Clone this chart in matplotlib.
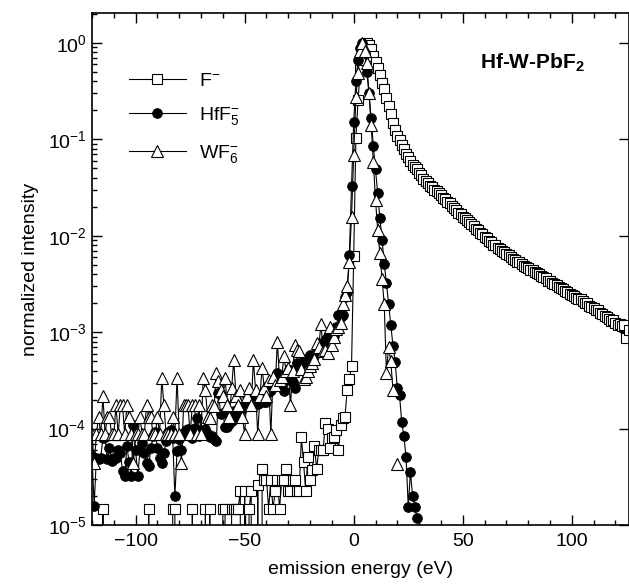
import numpy as np
import matplotlib
matplotlib.use("Agg")
import matplotlib.pyplot as plt
from matplotlib.ticker import MultipleLocator, LogLocator, NullFormatter

plt.rcParams['font.family'] = ['Liberation Sans', 'DejaVu Sans']
plt.rcParams['mathtext.fontset'] = 'custom'
plt.rcParams['mathtext.rm'] = 'Liberation Sans'
plt.rcParams['mathtext.it'] = 'Liberation Sans:italic'
plt.rcParams['mathtext.bf'] = 'Liberation Sans:bold'

# values are log10(normalized intensity), 1 eV steps
# None = no counts (drops off the log axis), nan = no point
Z = None

f_start = -120
f_log = [
    Z, Z, Z, Z, Z, -4.83, Z, Z, Z, Z,                                   # -120
    Z, Z, Z, Z, Z, Z, Z, Z, Z, Z,                                       # -110
    Z, Z, Z, Z, Z, Z, -4.83, Z, Z, Z,                                   # -100
    Z, Z, Z, Z, Z, Z, Z, -4.83, -4.83, Z,                               # -90
    Z, Z, Z, Z, Z, Z, -4.83, Z, Z, Z,                                   # -80
    Z, Z, -4.83, Z, -4.83, Z, Z, Z, Z, Z,                               # -70
    -4.83, -4.83, Z, Z, -4.83, -4.83, -4.83, -4.83, -4.65, Z,           # -60
    -4.65, Z, -4.83, -4.65, Z, Z, -4.58, Z, -4.42, -4.53,               # -50
    -4.53, -4.83, -4.53, -4.83, -4.65, -4.53, -4.83, -4.53, -4.53, -4.42,  # -40
    -4.65, -4.65, -4.53, -4.53, -4.65, -4.65, -4.09, -4.35, -4.65, -4.29,  # -30
    -4.53, -4.43, -4.18, -4.42, -4.22, -4.22, -4.22, -3.94, -4.00, -4.20,  # -20
    -4.10, -4.09, -4.01, -4.22, -3.96, -3.89, -3.88, -3.60, -3.49, -3.35,  # -10
    -2.21, -0.99, -0.59, -0.28, -0.08, -0.01, 0.00, -0.02, -0.06, -0.13,   # 0
    -0.20, -0.26, -0.33, -0.41, -0.48, -0.57, -0.65, -0.74, -0.83, -0.90,  # 10
    -0.96, -1.01, -1.06, -1.10, -1.15, -1.18, -1.22, -1.26, -1.29, -1.31,  # 20
    -1.35, -1.37, -1.41, -1.43, -1.45, -1.48, -1.49, -1.52, -1.54, -1.56,  # 30
    -1.58, -1.61, -1.62, -1.65, -1.66, -1.69, -1.71, -1.73, -1.76, -1.77,  # 40
    -1.80, -1.81, -1.84, -1.86, -1.88, -1.90, -1.93, -1.94, -1.97, -1.98,  # 50
    -2.01, -2.02, -2.05, -2.06, -2.09, -2.10, -2.13, -2.14, -2.16, -2.17,  # 60
    -2.19, -2.20, -2.22, -2.24, -2.25, -2.27, -2.27, -2.29, -2.31, -2.32,  # 70
    -2.33, -2.35, -2.35, -2.38, -2.39, -2.40, -2.42, -2.43, -2.44, -2.47,  # 80
    -2.47, -2.49, -2.50, -2.51, -2.53, -2.54, -2.55, -2.57, -2.58, -2.60,  # 90
    -2.61, -2.62, -2.64, -2.66, -2.66, -2.68, -2.70, -2.70, -2.73, -2.74,  # 100
    -2.75, -2.77, -2.77, -2.80, -2.81, -2.83, -2.84, -2.86, -2.88, -2.87,  # 110
    -2.90, -2.92, -2.91, -2.94, -2.93, -3.06, -2.98,                       # 120
]

hf_start = -120
hf_log = [
    -4.28, -4.80, -4.30, -4.32, -4.30, -4.10, -4.09, -4.32, -4.20, -4.34,  # -120
    -4.30, -4.30, -4.22, -4.25, -4.44, -4.49, -4.18, -4.35, -4.49, -3.96,  # -110
    -4.22, -4.49, -4.22, -4.15, -4.25, -4.36, -4.39, -4.20, -4.08, -4.04,  # -100
    -4.20, -4.30, -4.36, -4.25, -4.13, -4.04, -4.01, -4.10, -4.70, -4.23,  # -90
    -4.11, -4.22, -4.05, -4.01, -4.00, -4.03, -4.10, -3.99, -3.89, -4.08,  # -80
    -4.05, -4.03, -4.00, -4.06, -4.09, -4.08, -4.11, -4.13, -3.63, -3.85,  # -70
    -3.84, -3.98, -3.98, -3.95, -3.92, -3.82, -3.88, -3.80, -3.77, -3.80,  # -60
    -3.74, -3.66, -3.72, -3.76, -3.70, -3.68, -3.74, -3.70, -3.66, -3.72,  # -50
    -3.72, -3.62, -3.60, -3.51, -3.55, -3.42, -3.50, -3.55, -3.61, -3.50,  # -40
    -3.45, -3.39, -3.52, -3.58, -3.32, -3.38, -3.34, -3.30, -3.28, -3.27,  # -30
    -3.24, -3.25, -3.25, -3.20, -3.17, -3.13, -3.11, -3.08, -3.04, -3.06,  # -20
    -3.02, -3.04, -2.95, -2.82, -2.84, -2.82, -2.63, -2.58, -2.20, -1.48,  # -10
    -0.82, -0.39, -0.18, -0.05, 0.00, -0.10, -0.30, -0.52, -0.78, -1.07,   # 0
    -1.31, -1.56, -1.82, -2.04, -2.29, -2.49, -2.71, -2.93, -3.14, -3.31,  # 10
    -3.58, -3.65, -3.93, -4.08, -4.29, -4.81, -4.45, -4.70, -4.81, -4.93,  # 20
]

wf_start = -120
wf_log = [
    -4.06, -4.36, -4.06, -3.88, -4.06, -3.66, -4.06, -3.88, -3.88, -4.06,  # -120
    -4.06, -3.76, -4.06, -3.76, -3.76, -4.06, -3.76, -3.88, -4.06, -4.36,  # -110
    -4.06, -4.06, -3.88, -4.06, -4.06, -3.76, -3.88, -3.88, -4.06, -4.06,  # -100
    -3.88, -4.06, -3.47, -3.76, -4.06, -4.06, -4.06, -3.88, -4.06, -3.47,  # -90
    -4.06, -4.36, -3.76, -3.76, -3.76, -4.06, -3.76, -3.76, -4.06, -3.76,  # -80
    -4.06, -3.47, -3.60, -3.88, -3.89, -3.76, -3.77, -3.42, -3.51, -3.60,  # -70
    -3.66, -3.47, -3.76, -3.88, -3.58, -3.29, -3.66, -3.76, -3.60, -3.88,  # -60
    -4.06, -3.66, -3.58, -3.76, -3.29, -3.60, -4.06, -3.66, -3.37, -3.58,  # -50
    -3.66, -3.50, -4.06, -3.46, -3.55, -3.10, -3.50, -3.46, -3.25, -3.40,  # -40
    -3.37, -3.76, -3.40, -3.13, -3.18, -3.20, -3.38, -3.49, -3.46, -3.40,  # -30
    -3.35, -3.32, -3.28, -3.11, -3.15, -2.91, -3.20, -3.18, -3.22, -2.95,  # -20
    -3.13, -3.05, -2.97, -2.95, -2.90, -2.71, -2.61, -2.52, -2.27, -1.80,  # -10
    -1.16, -0.56, -0.31, -0.08, 0.00, -0.08, -0.21, -0.52, -0.85, -1.23,   # 0
    -1.63, -1.94, -2.18, -2.45, -2.71, -3.42, -3.15, -3.30, -3.60, np.nan, # 10
    -4.37,                                                                 # 20
]

labels = ['F$^{-}$', 'HfF$_5^{-}$', 'WF$_6^{-}$']


def to_series(start, logs):
    e = np.arange(start, start + len(logs))
    y = np.array([0.0 if v is None else 10.0 ** v for v in logs])
    return e, y


fig = plt.figure(figsize=(6.29, 5.88), dpi=100)
ax = fig.add_axes([92 / 629, 1 - 525 / 588, (628.5 - 92) / 629, (525 - 13) / 588])

e, y = to_series(f_start, f_log)
ax.plot(e, y, '-', color='black', lw=0.8, marker='s', ms=6.5, mfc='white',
        mec='black', mew=0.8, label=labels[0])
e, y = to_series(hf_start, hf_log)
ax.plot(e, y, '-', color='black', lw=0.8, marker='o', ms=7, mfc='black',
        mec='black', mew=0.6, label=labels[1])
e, y = to_series(wf_start, wf_log)
ax.plot(e, y, '-', color='black', lw=0.8, marker='^', ms=8, mfc='white',
        mec='black', mew=0.8, label=labels[2])

ax.set_yscale('log')
ax.set_xlim(-120, 126)
ax.set_ylim(1e-5, 2.05)

ax.xaxis.set_major_locator(MultipleLocator(50))
ax.xaxis.set_minor_locator(MultipleLocator(10))
ax.yaxis.set_major_locator(LogLocator(base=10, numticks=10))
ax.yaxis.set_minor_locator(LogLocator(base=10, subs=np.arange(2, 10), numticks=20))
ax.yaxis.set_minor_formatter(NullFormatter())

ax.tick_params(which='both', direction='in', top=True, right=True,
               labelsize=14, width=1.0)
ax.tick_params(which='major', length=7)
ax.tick_params(which='minor', length=3.5)
ax.tick_params(axis='y', which='minor', right=False)
ax.tick_params(axis='y', which='major', pad=4)
ax.tick_params(axis='x', which='major', pad=6)
for s in ax.spines.values():
    s.set_linewidth(1.2)

ax.set_xlabel('emission energy (eV)', fontsize=14, labelpad=8)
ax.set_ylabel('normalized intensity', fontsize=14, labelpad=6)

ax.text(0.919, 0.902, 'Hf-W-PbF$_\\mathbf{2}$', transform=ax.transAxes,
        ha='right', va='center', fontsize=15, fontweight='bold')

ax.legend(loc='upper left', bbox_to_anchor=(0.055, 0.90), frameon=False,
          fontsize=14, handlelength=2.9, handletextpad=0.7, labelspacing=0.8,
          numpoints=1, borderaxespad=0)

fig.savefig('out.png', dpi=100)
